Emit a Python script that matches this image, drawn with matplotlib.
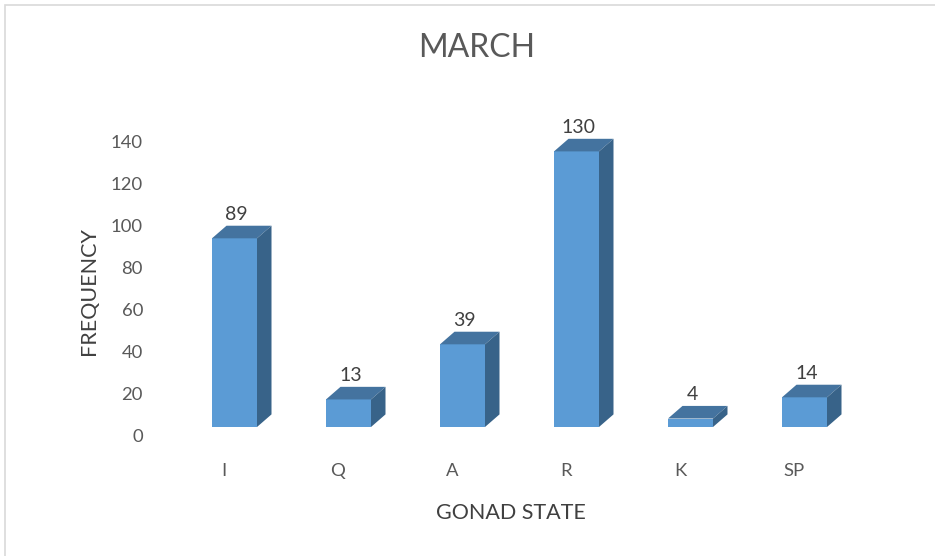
import matplotlib
matplotlib.use("Agg")
import matplotlib.pyplot as plt
from matplotlib.patches import Polygon, Rectangle
from matplotlib.transforms import ScaledTranslation

categories = ["I", "Q", "A", "R", "K", "SP"]
values = [89, 13, 39, 130, 4, 14]
yticks = [0, 20, 40, 60, 80, 100, 120, 140]
title = "MARCH"
xlabel = "GONAD STATE"
ylabel = "FREQUENCY"

W, H, DPI = 935, 556, 100
plt.rcParams['font.family'] = ['Lato', 'DejaVu Sans']
fig = plt.figure(figsize=(W / DPI, H / DPI), dpi=DPI)

# axes geometry in pixels
ax_l, ax_r, ax_t, ax_b = 120, 880, 100, 480
rect = [ax_l / W, (H - ax_b) / H, (ax_r - ax_l) / W, (ax_b - ax_t) / H]

# front-face scale
x0_px, step_px = 234.5, 114.0
y0_px, ppu = 427.0, 2.12
xlim = ((ax_l - x0_px) / step_px, (ax_r - x0_px) / step_px)
ylim = (-(ax_b - y0_px) / ppu, (y0_px - ax_t) / ppu)

# tick label (back wall) scale
t0_px, tppu = 435.5, 2.1
ylim2 = (-(ax_b - t0_px) / tppu, (t0_px - ax_t) / tppu)

ax2_l = 148
rect2 = [ax2_l / W, (H - ax_b) / H, (ax_r - ax2_l) / W, (ax_b - ax_t) / H]
ax2 = fig.add_axes(rect2, zorder=0)
ax2.set_ylim(ylim2)
ax2.set_yticks(yticks)
ax2.set_xticks([])
for s in ax2.spines.values():
    s.set_visible(False)
ax2.tick_params(axis='y', length=0, pad=3.6, labelsize=13.3, labelcolor='#595959')
ax2.patch.set_alpha(0)

ax = fig.add_axes(rect, zorder=1)
ax.set_xlim(xlim)
ax.set_ylim(ylim)
ax.axis('off')
ax.patch.set_alpha(0)

bw = 45.0 / step_px
dx = 14.5 / step_px
dy = 12.6 / ppu
front_c = '#5B9BD5'
top_c = '#44739F'
side_c = '#386389'

xs = list(range(len(categories)))
bars = ax.bar(xs, values, width=bw, color=front_c, edgecolor='none', zorder=3)
for b, v in zip(bars, values):
    xl = b.get_x()
    xr = xl + b.get_width()
    top = Polygon([(xl, v), (xr, v), (xr + dx, v + dy), (xl + dx, v + dy)],
                  closed=True, facecolor=top_c, edgecolor='none', zorder=3)
    side = Polygon([(xr, 0), (xr + dx, dy), (xr + dx, v + dy), (xr, v)],
                   closed=True, facecolor=side_c, edgecolor='none', zorder=3)
    ax.add_patch(top)
    ax.add_patch(side)
    ax.annotate(str(v), (xl + b.get_width() / 2 + dx * 0.15, v + dy),
                xytext=(0, 2), textcoords='offset points', ha='center', va='bottom',
                fontsize=14, color='#404040')

# category labels
lab_off = ScaledTranslation(-10.5 / DPI, -(471 - y0_px) / DPI, fig.dpi_scale_trans)
for x, c in zip(xs, categories):
    ax.text(x, 0, c, transform=ax.transData + lab_off,
            ha='center', va='center', fontsize=13.3, color='#595959')

fig.text(511 / W, 1 - 513 / H, xlabel, ha='center', va='center', fontsize=15.5, color='#404040')
fig.text(89 / W, 1 - 291 / H, ylabel, ha='center', va='center', rotation=90,
         fontsize=15.5, color='#404040')
fig.text(477 / W, 1 - 48 / H, title, ha='center', va='center', fontsize=23,
         color='#595959')

# chart border
fig.add_artist(Rectangle((5 / W, -0.1), 1.2, 1 - 5 / H + 0.1, transform=fig.transFigure,
                         fill=False, edgecolor='#D9D9D9', linewidth=1.2))

fig.savefig('out.png', dpi=DPI)
